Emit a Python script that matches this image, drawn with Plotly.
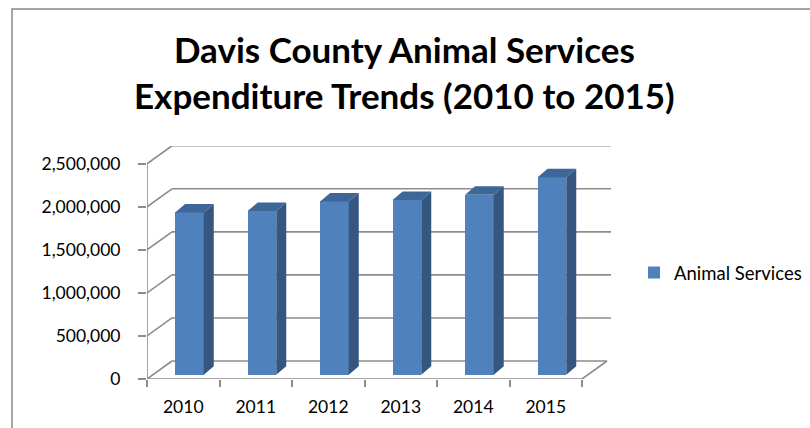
import plotly.graph_objects as go

# ---- data ----
years = ["2010", "2011", "2012", "2013", "2014", "2015"]
series_name = "Animal Services"
expenditure = [1885000, 1900000, 2013000, 2029000, 2090000, 2292000]
y_ticks = [0, 500000, 1000000, 1500000, 2000000, 2500000]
title_text = "<b>Davis County Animal Services<br>Expenditure Trends (2010 to 2015)</b>"

# ---- layout constants (pixels) ----
W, H = 810, 428
ML, MR, MT, MB = 147, 199, 146, 49
PX_PER_X = 72.5            # px per category slot
PLOT_W = W - ML - MR
PLOT_H = H - MT - MB
X_MAX = PLOT_W / PX_PER_X
PX_PER_V = 86.1 / 1e6      # px per value unit
Y_MAX = PLOT_H / PX_PER_V

# depth vectors (in data units)
DX = 25 / PX_PER_X          # full depth of the box
DY = 18 / PX_PER_V
FX = 6 / PX_PER_X           # front plane of bars
FY = 4.3 / PX_PER_V
BDX = 10 / PX_PER_X         # bar depth
BDY = 8.5 / PX_PER_V
BAR_L = 0.305
BAR_W = 0.395

FRONT = "#4F81BD"
SIDE = "#34567F"
TOP = "#3E6799"
GRID = "#8C8C8C"

n = len(years)
bx_left = [i + FX + BAR_L for i in range(n)]
bx_center = [xl + BAR_W / 2 for xl in bx_left]

fig = go.Figure()

# front faces
fig.add_trace(go.Bar(
    x=bx_center, y=expenditure, base=[FY] * n, width=BAR_W,
    marker=dict(color=FRONT, line=dict(width=0)),
    name=series_name, showlegend=True,
))

# side and top faces
sx, sy, tx, ty = [], [], [], []
for xl, v in zip(bx_left, expenditure):
    xr = xl + BAR_W
    sx += [xr, xr + BDX, xr + BDX, xr, xr, None]
    sy += [FY, FY + BDY, FY + v + BDY, FY + v, FY, None]
    tx += [xl, xl + BDX, xr + BDX, xr, xl, None]
    ty += [FY + v, FY + v + BDY, FY + v + BDY, FY + v, FY + v, None]
fig.add_trace(go.Scatter(x=sx, y=sy, fill="toself", fillcolor=SIDE, mode="none",
                         showlegend=False, hoverinfo="skip"))
fig.add_trace(go.Scatter(x=tx, y=ty, fill="toself", fillcolor=TOP, mode="none",
                         showlegend=False, hoverinfo="skip"))

# wall / floor lines
shapes = []
line = dict(color=GRID, width=1.6)
for v in y_ticks:
    x1 = n + DX if v == 0 else X_MAX
    shapes.append(dict(type="line", xref="x", yref="y", x0=DX, y0=v + DY, x1=x1, y1=v + DY,
                       line=line, layer="below"))
    shapes.append(dict(type="line", xref="x", yref="y", x0=0, y0=v, x1=DX, y1=v + DY,
                       line=line, layer="below"))
shapes.append(dict(type="line", xref="x", yref="y", x0=0, y0=0, x1=0, y1=y_ticks[-1],
                   line=line, layer="below"))
shapes.append(dict(type="line", xref="x", yref="y", x0=0, y0=0, x1=n, y1=0,
                   line=line, layer="below"))
shapes.append(dict(type="line", xref="x", yref="y", x0=n, y0=0, x1=n + DX, y1=DY,
                   line=line, layer="below"))

# outer chart border
def px2paper_x(px):
    return (px - ML) / PLOT_W

def px2paper_y(py):
    return (H - MB - py) / PLOT_H

shapes.append(dict(type="rect", xref="paper", yref="paper",
                   x0=px2paper_x(12), y0=px2paper_y(440), x1=px2paper_x(830), y1=px2paper_y(9),
                   line=dict(color="#898989", width=1.5), fillcolor="rgba(0,0,0,0)", layer="below"))

fig.update_layout(
    width=W, height=H,
    margin=dict(l=ML, r=MR, t=MT, b=MB, pad=0, autoexpand=False),
    paper_bgcolor="white", plot_bgcolor="white",
    font=dict(family="Lato", size=17.5, color="#000000"),
    xaxis=dict(range=[0, X_MAX], showgrid=False, zeroline=False, showline=False,
               tickmode="array", tickvals=[i + 0.5 for i in range(n)], ticktext=years,
               ticks="", ticklabelstandoff=15, automargin=False,
               minor=dict(tickmode="array", tickvals=list(range(n + 1)), ticks="outside",
                          ticklen=7, tickwidth=1.6, tickcolor=GRID, showgrid=False),
               fixedrange=True),
    yaxis=dict(range=[0, Y_MAX], showgrid=False, zeroline=False, showline=False,
               tickmode="array", tickvals=y_ticks, tickformat=",d",
               ticks="outside", ticklen=8, tickwidth=1.6, tickcolor=GRID,
               ticklabelstandoff=14, automargin=False, fixedrange=True),
    legend=dict(x=px2paper_x(634), xanchor="left", y=px2paper_y(273), yanchor="middle",
                font=dict(family="Lato", size=18.5), bgcolor="rgba(0,0,0,0)", itemwidth=30),
    annotations=[dict(text=title_text, xref="paper", yref="paper",
                      x=px2paper_x(404), y=px2paper_y(72), xanchor="center", yanchor="middle",
                      showarrow=False, font=dict(family="Lato", size=35, color="#000000"))],
    shapes=shapes,
    showlegend=True,
    bargap=0,
)

fig.write_html("out.html")
